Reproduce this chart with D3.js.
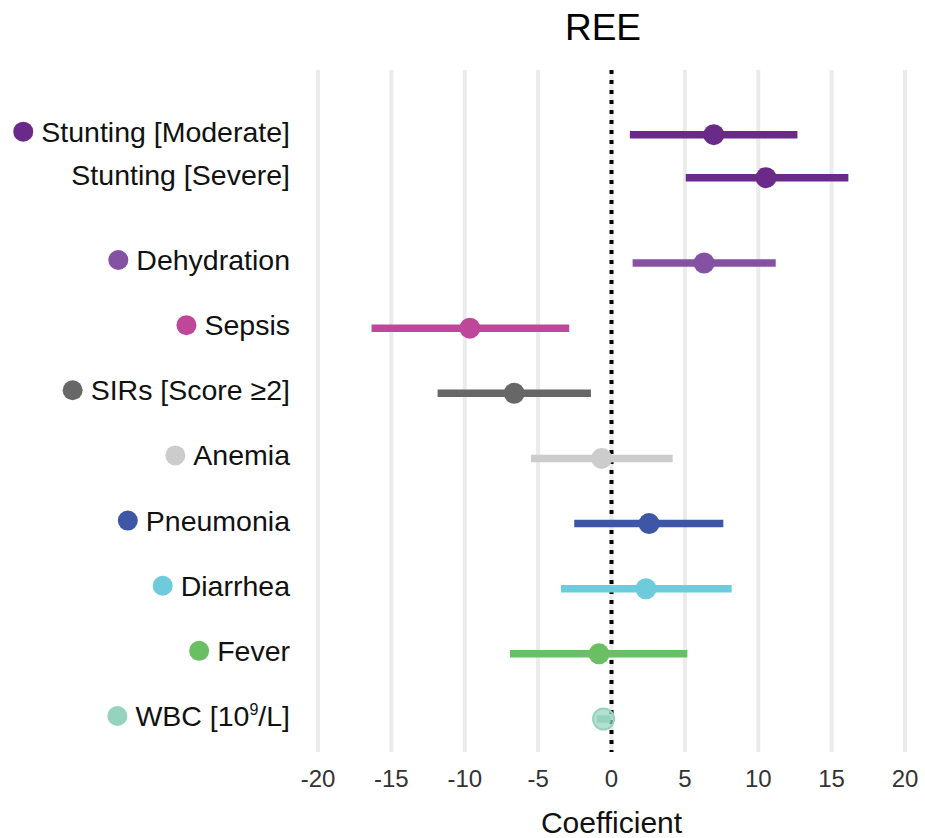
<!DOCTYPE html>
<html>
<head>
<meta charset="utf-8">
<script src="https://cdn.jsdelivr.net/npm/d3@7"></script>
<style>
  body { margin: 0; background: #fff; }
  text { font-family: "Liberation Sans", Arial, sans-serif; }
</style>
</head>
<body>
<svg id="chart"></svg>
<script>
// data
const labels = ["Stunting [Moderate]", "Stunting [Severe]", "Dehydration", "Sepsis",
                "SIRs [Score \u22652]", "Anemia", "Pneumonia", "Diarrhea", "Fever", "WBC"];
const estimate = [6.97, 10.53, 6.31, -9.65, -6.63, -0.67, 2.56, 2.35, -0.85, -0.54];
const lower    = [1.25, 5.06, 1.44, -16.35, -11.85, -5.49, -2.54, -3.44, -6.92, -1.0];
const upper    = [12.67, 16.14, 11.19, -2.88, -1.4, 4.17, 7.62, 8.19, 5.17, -0.07];
const colors   = ["#6a2a8a", "#6a2a8a", "#8451a3", "#bf4799", "#676767",
                  "#cccccc", "#3e56a6", "#6ecbdb", "#6bbf63", "#96d3be"];
const showDot  = [true, false, true, true, true, true, true, true, true, true];
const xTicks   = [-20, -15, -10, -5, 0, 5, 10, 15, 20];

const width = 925, height = 838;
// row slots: the stunting pair sits closer together above the rest
const slot = [-1.97, -1.31, 0, 1, 2, 3, 4, 5, 6, 7];

const svg = d3.select("#chart").attr("width", width).attr("height", height);

const x = d3.scaleLinear().domain([-20, 20]).range([318, 905]);
const y = d3.scaleLinear().domain([0, 7]).range([263, 719]);

// gridlines
svg.append("g")
   .selectAll("line")
   .data(xTicks)
   .join("line")
     .attr("x1", d => x(d)).attr("x2", d => x(d))
     .attr("y1", 70).attr("y2", 752)
     .attr("stroke", "#ebebeb")
     .attr("stroke-width", 4);

// zero line
svg.append("line")
   .attr("x1", x(0)).attr("x2", x(0))
   .attr("y1", 70).attr("y2", 752)
   .attr("stroke", "#000")
   .attr("stroke-width", 4)
   .attr("stroke-dasharray", "4,6");

const I = d3.range(labels.length);

// confidence intervals
svg.append("g")
   .selectAll("line")
   .data(I)
   .join("line")
     .attr("x1", i => x(lower[i])).attr("x2", i => x(upper[i]))
     .attr("y1", i => y(slot[i])).attr("y2", i => y(slot[i]))
     .attr("stroke", i => colors[i])
     .attr("stroke-width", 7.5);

// point estimates
svg.append("g")
   .selectAll("circle")
   .data(I)
   .join("circle")
     .attr("cx", i => x(estimate[i]))
     .attr("cy", i => y(slot[i]))
     .attr("r", 10.5)
     .attr("fill", i => colors[i])
     .attr("fill-opacity", i => i === 9 ? 0.7 : 1)
     .attr("stroke", i => i === 9 ? colors[i] : "none")
     .attr("stroke-width", 2);

// row labels with coloured dots
const lab = svg.append("g")
   .selectAll("g")
   .data(I)
   .join("g")
     .attr("transform", i => `translate(290, ${y(slot[i]) - 3})`);

lab.append("text")
   .attr("text-anchor", "end")
   .attr("dy", "0.35em")
   .attr("font-size", 28.5)
   .attr("fill", "#111")
   .each(function(i) {
     const t = d3.select(this);
     if (labels[i] === "WBC") {
       t.append("tspan").text("WBC [10");
       t.append("tspan").attr("font-size", 16).attr("dy", "-0.7em").text("9");
       t.append("tspan").attr("dy", "0.4em").text("/L]");
     } else {
       t.text(labels[i]);
     }
   });

lab.each(function(i) {
  if (!showDot[i]) return;
  const g = d3.select(this);
  const w = g.select("text").node().getComputedTextLength();
  g.append("circle")
   .attr("cx", -w - 18)
   .attr("cy", 0)
   .attr("r", 10)
   .attr("fill", colors[i]);
});

// x axis tick labels
svg.append("g")
   .selectAll("text")
   .data(xTicks)
   .join("text")
     .attr("x", d => x(d))
     .attr("y", 779)
     .attr("dy", "0.35em")
     .attr("text-anchor", "middle")
     .attr("font-size", 24)
     .attr("fill", "#333")
     .text(d => d);

svg.append("text")
   .attr("x", x(0))
   .attr("y", 822)
   .attr("dy", "0.35em")
   .attr("text-anchor", "middle")
   .attr("font-size", 30)
   .attr("fill", "#111")
   .text("Coefficient");

svg.append("text")
   .attr("x", 603)
   .attr("y", 27)
   .attr("dy", "0.35em")
   .attr("text-anchor", "middle")
   .attr("font-size", 37)
   .attr("fill", "#000")
   .text("REE");
</script>
</body>
</html>
